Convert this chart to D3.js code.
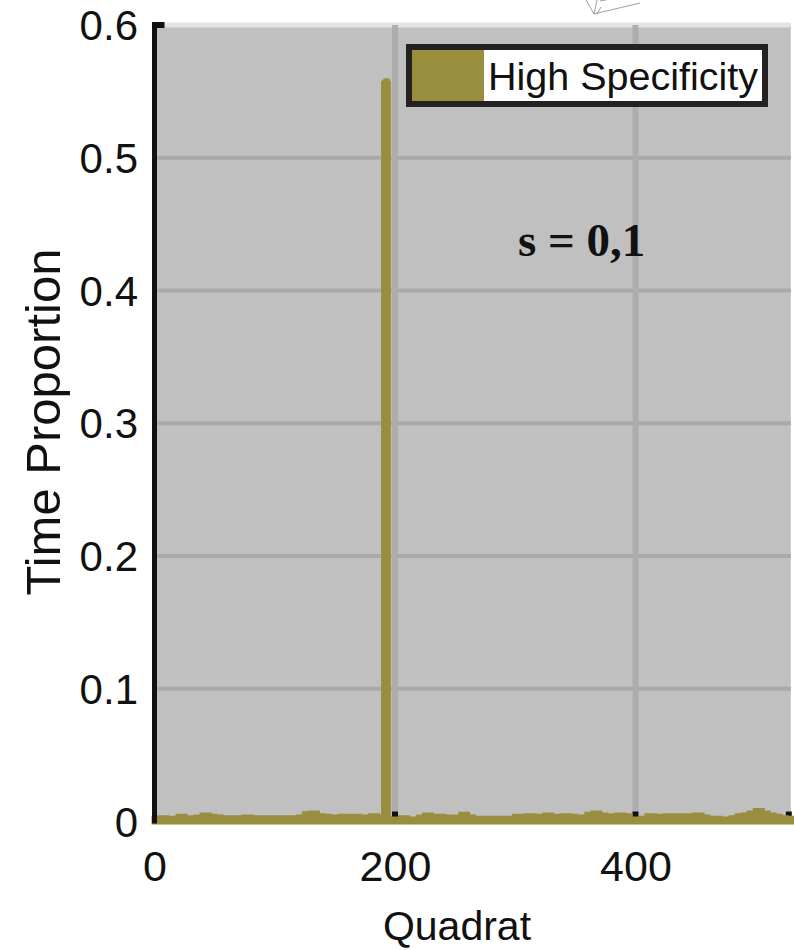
<!DOCTYPE html>
<html>
<head>
<meta charset="utf-8">
<script src="https://cdn.jsdelivr.net/npm/d3@7"></script>
<style>
  body { margin: 0; background: #fff; }
  svg { display: block; }
  text { font-family: "Liberation Sans", Arial, sans-serif; fill: #111; }
</style>
</head>
<body>
<script>
// baseline time proportion, read in bins of 5 quadrats (bin start 0,5,...,525)
var binStarts = d3.range(0, 530, 5);
var binValues = [
  0.002, 0.0025, 0.002, 0.002, 0.0035, 0.0025, 0.002, 0.003, 0.0045, 0.0035,
  0.003, 0.0025, 0.002, 0.0025, 0.002, 0.003, 0.002, 0.0025, 0.002, 0.0025,
  0.002, 0.0025, 0.002, 0.0025, 0.003, 0.0055, 0.006, 0.004, 0.0035, 0.003,
  0.0025, 0.0035, 0.003, 0.0035, 0.003, 0.002, 0.004, 0.003, 0.002, 0.001,
  0.0015, 0.0025, 0.001, 0.0015, 0.003, 0.0045, 0.003, 0.0035, 0.003, 0.0025,
  0.003, 0.005, 0.003, 0.002, 0.0015, 0.002, 0.0015, 0.002, 0.0015, 0.002,
  0.0035, 0.003, 0.004, 0.003, 0.0035, 0.0045, 0.003, 0.0035, 0.004, 0.0035,
  0.003, 0.003, 0.005, 0.006, 0.0045, 0.003, 0.004, 0.0045, 0.004, 0.0015,
  0.001, 0.002, 0.004, 0.0035, 0.003, 0.004, 0.0035, 0.004, 0.0035, 0.004,
  0.0045, 0.003, 0.0015, 0.002, 0.0015, 0.0015, 0.0025, 0.004, 0.0045, 0.006,
  0.008, 0.006, 0.0045, 0.0035, 0.0025, 0.002
];
// the high peak
var spikeQuadrats = [191, 192, 193, 194];
var spikeValues = [0.556, 0.557, 0.558, 0.556];

var yTicks = [0, 0.1, 0.2, 0.3, 0.4, 0.5, 0.6];
var xTicks = [0, 200, 400];
var legendLabel = "High Specificity";
var annotation = "s = 0,1";

var W = 794, H = 950;
var olive = "#998e3e";

var x = d3.scaleLinear().domain([0, 530]).range([154.5, 791.8]);
var y = d3.scaleLinear().domain([0, 0.6]).range([821.5, 25]);

var svg = d3.select("body").append("svg")
    .attr("width", W)
    .attr("height", H);

// small fragment of a sketch at the top
svg.append("path")
    .attr("d", "M586,0 L594,14 L640,3 M594,14 L597,0 M597,14 L601,7 M600,1 L606,0")
    .attr("fill", "none")
    .attr("stroke", "#888")
    .attr("stroke-width", 0.8);

// plot background
svg.append("rect")
    .attr("x", x(0))
    .attr("y", y(0.6))
    .attr("width", x(530) - x(0) - 1)
    .attr("height", y(0) - y(0.6))
    .attr("fill", "#c0c0c0");

// top light line
svg.append("line")
    .attr("x1", x(0)).attr("x2", x(530) - 1)
    .attr("y1", y(0.6)).attr("y2", y(0.6))
    .attr("stroke", "#e4e4e4")
    .attr("stroke-width", 5);

// grid
svg.append("g").selectAll("line")
    .data(yTicks.filter(function(d) { return d > 0 && d < 0.6; }))
    .enter().append("line")
    .attr("x1", x(0)).attr("x2", x(530) - 1)
    .attr("y1", function(d) { return y(d); })
    .attr("y2", function(d) { return y(d); })
    .attr("stroke", "#a9a9a9")
    .attr("stroke-width", 4);

svg.append("g").selectAll("line")
    .data(xTicks.filter(function(d) { return d > 0; }))
    .enter().append("line")
    .attr("x1", function(d) { return x(d); })
    .attr("x2", function(d) { return x(d); })
    .attr("y1", y(0.6)).attr("y2", y(0))
    .attr("stroke", "#adadad")
    .attr("stroke-width", 6);

// x ticks (inside, below the bars)
svg.append("g").selectAll("line")
    .data(xTicks.filter(function(d) { return d > 0; }).concat([530]))
    .enter().append("line")
    .attr("x1", function(d) { return d === 530 ? x(d) - 3 : x(d); })
    .attr("x2", function(d) { return d === 530 ? x(d) - 3 : x(d); })
    .attr("y1", y(0) + 2).attr("y2", y(0) - 10)
    .attr("stroke", "#111")
    .attr("stroke-width", 6);

// baseline bars
var pts = binStarts.map(function(q, i) { return {q: q, v: binValues[i]}; });
pts.push({q: 530, v: binValues[binValues.length - 1]});

var area = d3.area()
    .curve(d3.curveStepAfter)
    .x(function(d) { return x(d.q); })
    .y0(y(0))
    .y1(function(d) { return y(d.v); });

svg.append("path")
    .datum(pts)
    .attr("d", area)
    .attr("fill", olive)
    .attr("stroke", olive)
    .attr("stroke-width", 6)
    .attr("stroke-linejoin", "miter");

// spike
svg.append("g").selectAll("rect")
    .data(spikeQuadrats.map(function(q, i) { return {q: q, v: spikeValues[i]}; }))
    .enter().append("rect")
    .attr("x", function(d) { return x(d.q - 0.5); })
    .attr("width", function(d) { return x(d.q + 0.5) - x(d.q - 0.5); })
    .attr("y", function(d) { return y(d.v); })
    .attr("height", function(d) { return y(0) - y(d.v); })
    .attr("fill", olive)
    .attr("stroke", olive)
    .attr("stroke-width", 5);

// left axis line + top tick
svg.append("line")
    .attr("x1", x(0)).attr("x2", x(0))
    .attr("y1", y(0.6) - 3).attr("y2", y(0) + 2)
    .attr("stroke", "#111")
    .attr("stroke-width", 5);
svg.append("line")
    .attr("x1", x(0) - 2.5).attr("x2", x(0) + 10)
    .attr("y1", y(0.6)).attr("y2", y(0.6))
    .attr("stroke", "#111")
    .attr("stroke-width", 6);

// tick labels via axes
var yAxis = d3.axisLeft(y).tickValues(yTicks).tickSize(0).tickPadding(0)
    .tickFormat(function(d) { return d === 0 ? "0" : d3.format(".1f")(d); });
var gy = svg.append("g")
    .attr("transform", "translate(138,0)")
    .call(yAxis);
gy.select(".domain").remove();
gy.selectAll("text")
    .attr("dy", "0.35em")
    .style("font-size", "42px")
    .style("font-family", "'Liberation Sans', Arial, sans-serif")
    .attr("fill", "#111");

var xAxis = d3.axisBottom(x).tickValues(xTicks).tickSize(0).tickPadding(0);
var gx = svg.append("g")
    .attr("transform", "translate(0,881)")
    .call(xAxis);
gx.select(".domain").remove();
gx.selectAll("text")
    .attr("dy", "0")
    .attr("y", 0)
    .style("font-size", "43px")
    .style("font-family", "'Liberation Sans', Arial, sans-serif")
    .attr("fill", "#111");

// axis titles
svg.append("text")
    .attr("x", 457)
    .attr("y", 940)
    .attr("text-anchor", "middle")
    .style("font-size", "41px")
    .text("Quadrat");

svg.append("text")
    .attr("transform", "translate(60,422) rotate(-90)")
    .attr("text-anchor", "middle")
    .style("font-size", "49px")
    .text("Time Proportion");

// annotation
svg.append("text")
    .attr("x", 518)
    .attr("y", 256)
    .style("font-family", "'Liberation Serif', 'Times New Roman', serif")
    .style("font-weight", "bold")
    .style("font-size", "47px")
    .text(annotation);

// legend
var lg = svg.append("g");
lg.append("rect")
    .attr("x", 409).attr("y", 47)
    .attr("width", 356).attr("height", 57)
    .attr("fill", "#fff")
    .attr("stroke", "#222")
    .attr("stroke-width", 6);
lg.append("rect")
    .attr("x", 412).attr("y", 50)
    .attr("width", 72).attr("height", 51)
    .attr("fill", olive);
lg.append("text")
    .attr("x", 488)
    .attr("y", 90)
    .style("font-size", "39.5px")
    .text(legendLabel);
</script>
</body>
</html>
